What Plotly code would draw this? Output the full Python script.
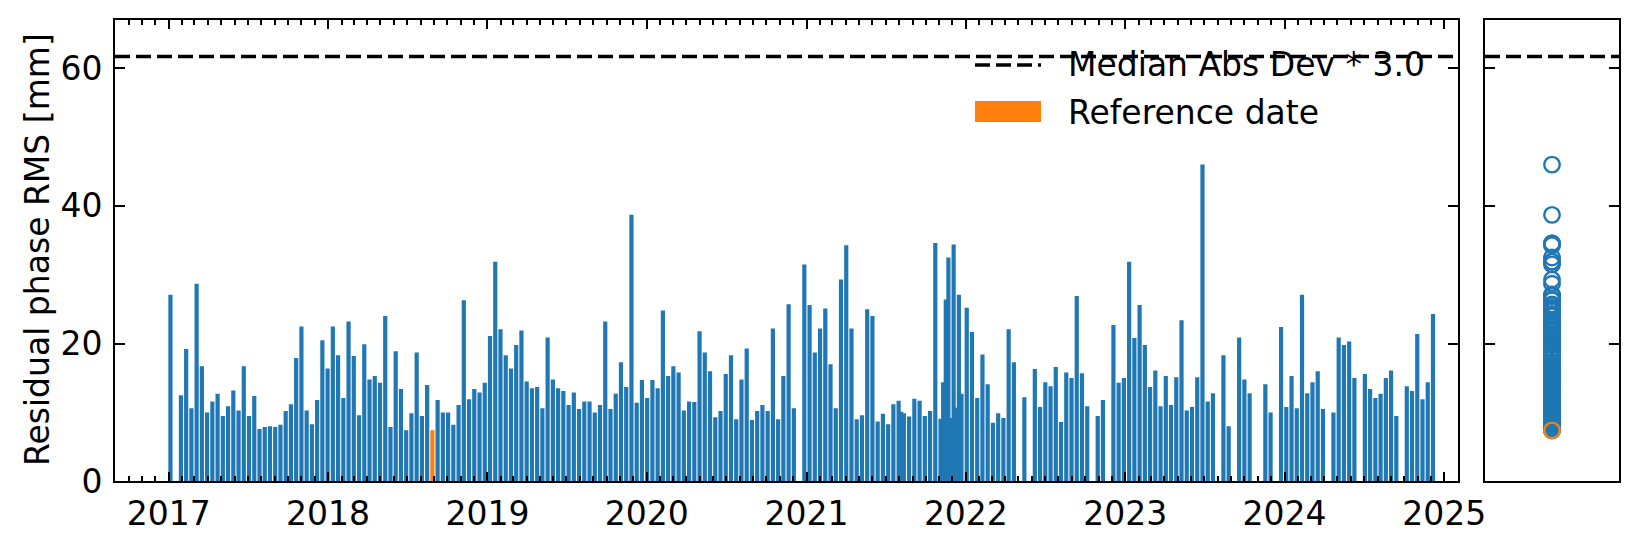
import numpy as np
import pandas as pd
import plotly.graph_objects as go

# ---------------- data ----------------
first_acquisition = "2017-01-05"
revisit_days = 12

# residual phase RMS [mm] on the 12-day acquisition grid (None = no acquisition)
rms_2017 = [27.1, None, 12.5, 19.2, 10.6, 28.7, 16.7, 10.0, 11.6, 12.7, 9.5, 10.9,
            13.2, 10.3, 16.7, 9.5, 12.4, 7.6, 7.9, 8.0, 7.9, 8.2, 10.2, 11.2,
            17.9, 22.5, 10.3, 8.3, 11.8, 20.5]
rms_2018 = [16.4, 22.5, 18.3, 12.1, 23.2, 18.2, 9.6, 19.9, 14.8, 15.3, 14.3, 24.0,
            7.9, 18.9, 13.4, 7.4, 9.9, 18.7, 9.5, 14.0, 7.4, 11.8, 10.0, 10.0,
            8.2, 11.1, 26.3, 11.9, 13.4, 12.9, 14.3]
rms_2019 = [21.1, 31.9, 22.1, 18.3, 16.4, 19.8, 21.9, 14.5, 13.5, 13.7, 10.6, 20.9,
            14.8, 13.5, 13.1, 11.1, 12.9, 10.5, 11.6, 11.6, 10.0, 11.1, 23.2, 10.5,
            12.7, 17.3, 13.7, 38.7, 11.4, 14.7]
rms_2020 = [12.1, 14.7, 13.5, 24.8, 15.3, 16.7, 15.8, 10.3, 11.6, 11.5, 21.8, 18.7,
            16.0, 9.3, 10.2, 15.6, 18.3, 9.0, 14.8, 19.3, 8.9, 10.2, 11.1, 10.2,
            22.2, 9.0, 15.3, 25.7, 10.6, None, 31.5]
rms_2021 = [25.6, 18.7, 22.2, 25.1, 17.0, 10.6, 29.3, 34.3, 22.2, 9.0, 9.6, 25.0,
            24.0, 8.7, 9.8, 8.3, 11.2, 11.7, 9.9, 9.4, 12.0, 11.7, 9.5, 10.2,
            34.6, 9.1, 26.4, 9.2, 10.7, 12.7]
rms_2022 = [25.2, 21.7, 12.1, 18.4, 14.1, 8.5, 9.9, 9.2, 22.1, 17.3, None, 12.2,
            None, 16.3, 10.8, 14.4, 13.8, 16.6, 8.6, 15.8, 15.0, 26.9, 15.7, 10.9,
            None, 9.5, 11.8, None, 22.7, 14.3]
rms_2023 = [15.0, 31.9, 20.8, 25.6, 19.8, 13.7, 16.1, 10.9, 15.3, 11.1, 15.1, 23.4,
            10.3, 10.8, 15.1, 46.0, 11.6, 12.8, None, 18.3, 8.0, None, 20.9, 14.8,
            12.8, None, None, 14.1, 10.0, None]
rms_2024 = [22.4, 10.8, 15.3, 10.6, 27.1, 12.8, 14.4, 16.0, 10.5, None, 10.0, 20.9,
            19.8, 20.3, 15.0, None, 15.6, 13.4, 12.1, 12.7, 15.0, 16.1, 9.5, None,
            13.8, 13.1, 21.4, 11.9, 14.4, 24.3]

# additional 6-day acquisitions
extra_dates = ["2021-08-06", "2021-11-10", "2021-11-22", "2021-12-04", "2021-12-16"]
extra_rms = [10.1, 14.4, 32.5, 34.4, 27.1]

reference_date = "2018-08-28"
mad_threshold = 61.7
y_ticks = [0, 20, 40, 60]

BLUE = "#1f77b4"
ORANGE = "#ff7f0e"
FONT = "DejaVu Sans"
FS = 33

# ---------------- assemble ----------------
rms_grid = rms_2017 + rms_2018 + rms_2019 + rms_2020 + rms_2021 + rms_2022 + rms_2023 + rms_2024
grid_dates = pd.date_range(first_acquisition, periods=len(rms_grid), freq=f"{revisit_days}D")
df = pd.concat([
    pd.DataFrame({"date": grid_dates, "rms": rms_grid}),
    pd.DataFrame({"date": pd.to_datetime(extra_dates), "rms": extra_rms}),
]).dropna().sort_values("date").reset_index(drop=True)
df["rms"] = df["rms"].astype(float)
is_ref = df["date"] == pd.Timestamp(reference_date)
colors = np.where(is_ref, ORANGE, BLUE)

bar_width_ms = 0.8 * revisit_days * 86400000

fig = go.Figure()
fig.add_trace(go.Bar(x=df["date"], y=df["rms"], width=bar_width_ms,
                     marker=dict(color=colors, line=dict(width=0)),
                     xaxis="x", yaxis="y", showlegend=False, hoverinfo="x+y"))
# empty trace so the mirrored top date axis (with monthly minor ticks) is drawn
fig.add_trace(go.Scatter(x=[], y=[], xaxis="x3", yaxis="y", showlegend=False))
fig.add_trace(go.Scatter(x=np.zeros(len(df)), y=df["rms"], mode="markers",
                         marker=dict(symbol="circle-open", size=15.5, color=BLUE,
                                     line=dict(width=2.4, color=BLUE)),
                         xaxis="x2", yaxis="y2", showlegend=False))
fig.add_trace(go.Scatter(x=np.zeros(int(is_ref.sum())), y=df.loc[is_ref, "rms"], mode="markers",
                         marker=dict(symbol="circle-open", size=15.5, color=ORANGE,
                                     line=dict(width=2.4, color=ORANGE)),
                         xaxis="x2", yaxis="y2", showlegend=False))

W, H = 1640, 545
def px_x(p):
    return p / W
def px_y(p):
    return 1 - p / H

ydom = [px_y(481.3), px_y(20)]
xdom = [px_x(115), px_x(1458.3)]
xrange_dates = ["2016-08-31", "2025-02-02"]
axis_common = dict(showline=True, linewidth=2, linecolor="black", showgrid=False,
                   zeroline=False, tickcolor="black", automargin=False)
date_ticks = dict(type="date", range=xrange_dates, tickmode="linear", tick0="2017-01-01",
                  dtick="M12", tickformat="%Y", ticks="inside", ticklen=9, tickwidth=2,
                  minor=dict(tick0="2017-01-01", dtick="M1", ticks="inside", ticklen=5,
                             tickwidth=1.5, tickcolor="black", showgrid=False))

fig.update_layout(
    template="none",
    width=W, height=H, autosize=False,
    margin=dict(l=0, r=0, t=0, b=0, pad=0),
    paper_bgcolor="white", plot_bgcolor="white",
    font=dict(family=FONT, size=FS, color="black"),
    showlegend=False,
    xaxis=dict(domain=xdom, tickfont=dict(size=FS), ticklabelstandoff=2,
               anchor="y", mirror=False, **date_ticks, **axis_common),
    xaxis3=dict(domain=xdom, overlaying="x", side="top", anchor="y",
                showticklabels=False, **date_ticks, **axis_common),
    yaxis=dict(domain=ydom, range=[0, 67], tickmode="array", tickvals=y_ticks,
               ticks="inside", ticklen=10, tickwidth=2, mirror="ticks",
               tickfont=dict(size=FS), ticklabelstandoff=4,
               anchor="x", **axis_common),
    xaxis2=dict(domain=[px_x(1485), px_x(1619)], range=[-1, 1], showticklabels=False,
                ticks="", mirror=True, anchor="y2", **axis_common),
    yaxis2=dict(domain=ydom, range=[0, 67], tickmode="array", tickvals=y_ticks,
                ticks="inside", ticklen=10, tickwidth=2, mirror="ticks",
                showticklabels=False, anchor="x2", **axis_common),
)

dash = "15px,6px"
for xr, yr in (("x domain", "y"), ("x2 domain", "y2")):
    fig.add_shape(type="line", xref=xr, yref=yr, x0=0, x1=1, y0=mad_threshold, y1=mad_threshold,
                  line=dict(color="black", width=3.5, dash=dash))

# legend (drawn manually, frameless like the original)
fig.add_shape(type="line", xref="paper", yref="paper", x0=px_x(975), x1=px_x(1041),
              y0=px_y(65), y1=px_y(65), line=dict(color="black", width=3.5, dash=dash))
fig.add_shape(type="rect", xref="paper", yref="paper", x0=px_x(975), x1=px_x(1041),
              y0=px_y(122), y1=px_y(101), line=dict(width=0), fillcolor=ORANGE)
fig.add_annotation(xref="paper", yref="paper", x=px_x(1066), y=px_y(65), text="Median Abs Dev * 3.0",
                   showarrow=False, xanchor="left", yanchor="middle", font=dict(size=FS))
fig.add_annotation(xref="paper", yref="paper", x=px_x(1066), y=px_y(112), text="Reference date",
                   showarrow=False, xanchor="left", yanchor="middle", font=dict(size=FS))

# y-axis title
fig.add_annotation(xref="paper", yref="paper", x=px_x(37), y=px_y(250),
                   text="Residual phase RMS [mm]", textangle=-90, showarrow=False,
                   xanchor="center", yanchor="middle", font=dict(size=FS))

fig.write_html("out.html", config={"displayModeBar": False},
               post_script="document.body.style.margin='0';document.body.style.overflow='hidden';")
